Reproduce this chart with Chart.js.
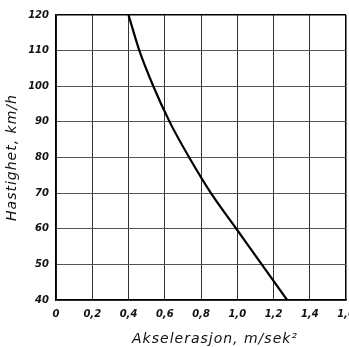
<!DOCTYPE html>
<html>
<head>
<meta charset="utf-8">
<script src="https://cdn.jsdelivr.net/npm/chart.js@4.4.1/dist/chart.umd.min.js"></script>
<style>
html,body{margin:0;padding:0;background:#fff;overflow:hidden;}
#wrap{position:relative;width:349px;height:347px;}
</style>
</head>
<body>
<div id="wrap"><canvas id="c"></canvas></div>
<script>
// Data
const speeds = [120, 110, 100, 90, 80, 70, 60, 50, 40];          // km/h
const accel  = [0.40, 0.46, 0.537, 0.627, 0.735, 0.855, 0.995, 1.135, 1.275]; // m/sek^2
const xTickValues = [0, 0.2, 0.4, 0.6, 0.8, 1.0, 1.2, 1.4, 1.6];
const xTickLabels = ['0', '0,2', '0,4', '0,6', '0,8', '1,0', '1,2', '1,4', '1,6'];
const yTickValues = [40, 50, 60, 70, 80, 90, 100, 110, 120];
const yTickLabels = ['40', '50', '60', '70', '80', '90', '100', '110', '120'];
const xTitle = 'Akselerasjon, m/sek²';
const yTitle = 'Hastighet, km/h';

const points = accel.map((a, i) => ({x: a, y: speeds[i]}));
const tickFont = {family: 'DejaVu Sans', size: 10, style: 'italic', weight: 'bold'};
const titleFont = {family: 'DejaVu Sans', size: 14, style: 'italic', weight: 'normal', lineHeight: 1.1};

function labelFor(values, labels, v) {
  for (let i = 0; i < values.length; i++) if (Math.abs(values[i] - v) < 1e-6) return labels[i];
  return '';
}

const titleSpacing = {
  id: 'titleSpacing',
  beforeDraw(chart) {
    Object.values(chart.scales).forEach(s => {
      if (s._patchedTitle) return;
      const orig = s.drawTitle;
      s.drawTitle = function () {
        const ctx = this.ctx;
        ctx.save();
        ctx.letterSpacing = '1px';
        if (this.axis === 'x') ctx.translate(14, 0);
        orig.apply(this, arguments);
        ctx.restore();
      };
      s._patchedTitle = true;
    });
  }
};

new Chart(document.getElementById('c'), {
  type: 'scatter',
  plugins: [titleSpacing],
  data: {
    datasets: [{
      data: points,
      showLine: true,
      borderColor: '#000',
      borderWidth: 2.2,
      pointRadius: 0,
      cubicInterpolationMode: 'monotone',
      fill: false
    }]
  },
  options: {
    responsive: true,
    maintainAspectRatio: false,
    animation: false,
    layout: {padding: {top: 15, left: 0, right: 3, bottom: 0}},
    plugins: {legend: {display: false}, tooltip: {enabled: false}},
    scales: {
      x: {
        type: 'linear',
        min: 0, max: 1.6,
        afterBuildTicks: s => { s.ticks = xTickValues.map(v => ({value: v})); },
        afterFit: s => { s.height = 47; s.paddingRight = 0; s.paddingLeft = 0; },
        ticks: {
          color: '#111', font: tickFont, padding: 8, maxRotation: 0, autoSkip: false,
          callback: v => labelFor(xTickValues, xTickLabels, v)
        },
        grid: {
          drawTicks: false,
          color: c => (c.tick && Math.abs(c.tick.value - 1.6) < 1e-6) ? '#000' : '#333',
          lineWidth: c => (c.tick && Math.abs(c.tick.value - 1.6) < 1e-6) ? 1.5 : 1
        },
        border: {color: '#000', width: 1.5},
        title: {display: true, text: xTitle, color: '#111', font: titleFont, padding: 0}
      },
      y: {
        type: 'linear',
        min: 40, max: 120,
        afterBuildTicks: s => { s.ticks = yTickValues.map(v => ({value: v})); },
        afterFit: s => { s.width = 56; },
        ticks: {
          color: '#111', font: tickFont, padding: 7, autoSkip: false,
          callback: v => labelFor(yTickValues, yTickLabels, v)
        },
        grid: {
          drawTicks: false,
          color: c => (c.tick && c.tick.value === 120) ? '#000' : '#555',
          lineWidth: c => (c.tick && c.tick.value === 120) ? 1.5 : 1
        },
        border: {color: '#000', width: 1.5},
        title: {display: true, text: yTitle, color: '#111', font: titleFont, padding: {top: 5, bottom: 0}}
      }
    }
  }
});
</script>
</body>
</html>
